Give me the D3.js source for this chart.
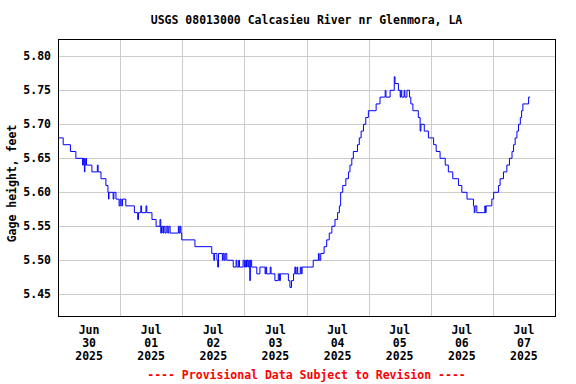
<!DOCTYPE html>
<html>
<head>
<meta charset="utf-8">
<script src="https://cdn.jsdelivr.net/npm/d3@7"></script>
<style>
  body { margin: 0; background: #fff; }
  svg text { font-family: "DejaVu Sans Mono", monospace; font-weight: bold; font-size: 11.5px; fill: #000; }
  .grid line { stroke: #cccccc; stroke-width: 1; shape-rendering: crispEdges; }
  .frame { fill: none; stroke: #000; stroke-width: 1; shape-rendering: crispEdges; }
  .series { fill: none; stroke: #0000ff; stroke-width: 1; }
  .note { fill: #ff0000; }
</style>
</head>
<body>
<svg width="576" height="384"></svg>
<script>
// hours after Jun 30 2025 00:00 at which the gage reading changes
const changeHours = [
  0, 2.0, 4.8, 6.9, 9.5, 9.8, 10.2, 10.4, 10.7, 11.0, 13.1, 15.2, 15.5, 16.6, 18.5,
  19.3, 19.5, 19.7, 21.3, 21.6, 22.4, 23.6, 24.0, 24.4, 24.9, 26.2, 29.5, 30.8, 31.1,
  32.0, 32.3, 34.0, 34.3, 36.3, 37.9, 39.4, 39.7, 40.0, 40.5, 40.8, 41.3, 41.8, 42.4,
  42.8, 43.3, 46.5, 46.8, 47.2, 47.5, 47.8, 52.9, 59.4, 60.2, 60.5, 61.4, 61.7, 62.0,
  63.5, 63.8, 64.2, 64.6, 65.2, 67.7, 68.8, 69.1, 69.8, 70.1, 71.5, 72.0, 72.5, 72.8,
  73.0, 73.4, 73.7, 74.1, 74.3, 74.8, 76.8, 78.0, 80.0, 80.3, 80.6, 82.0, 82.3, 83.8,
  85.1, 85.6, 85.9, 89.0, 89.6, 90.2, 91.0, 91.5, 91.8, 92.3, 92.6, 93.2, 93.6, 94.0,
  94.3, 98.6, 100.6, 100.9, 101.5, 102.8, 103.8, 104.8, 105.8, 107.0, 108.0, 108.7,
  109.2, 110.0, 111.2, 112.2, 112.8, 113.5, 114.1, 115.7, 116.4, 117.1, 118.0, 118.9,
  119.9, 122.9, 124.4, 126.4, 126.7, 128.3, 129.9, 130.2, 131.5, 132.2, 132.5, 132.8,
  133.7, 134.0, 134.8, 135.8, 136.3, 137.1, 139.2, 139.9, 140.2, 141.5, 143.1, 145.1,
  146.1, 147.6, 149.6, 150.8, 152.5, 154.7, 156.0, 158.0, 160.5, 160.8, 161.1, 161.8,
  164.9, 165.1, 165.4, 167.6, 168.3, 170.2, 170.8, 172.1, 173.4, 174.4, 175.4, 176.0,
  176.6, 177.3, 177.9, 178.6, 179.1, 179.6, 181.8, 182.4
];
// gage height, feet, from each change onward
const gageHeight = [
  5.68, 5.67, 5.66, 5.65, 5.64, 5.65, 5.63, 5.64, 5.65, 5.64, 5.63, 5.64, 5.63, 5.62, 5.61,
  5.60, 5.59, 5.60, 5.59, 5.60, 5.59, 5.58, 5.59, 5.58, 5.59, 5.58, 5.57, 5.56, 5.57,
  5.58, 5.57, 5.58, 5.57, 5.56, 5.55, 5.56, 5.54, 5.55, 5.54, 5.55, 5.54, 5.55, 5.54,
  5.55, 5.54, 5.55, 5.54, 5.55, 5.54, 5.53, 5.52, 5.51, 5.50, 5.51, 5.50, 5.49, 5.51,
  5.50, 5.51, 5.50, 5.51, 5.50, 5.49, 5.50, 5.49, 5.50, 5.49, 5.50, 5.49, 5.50, 5.49,
  5.50, 5.49, 5.50, 5.47, 5.50, 5.49, 5.48, 5.49, 5.48, 5.49, 5.48, 5.49, 5.48, 5.47,
  5.48, 5.47, 5.48, 5.47, 5.46, 5.47, 5.48, 5.49, 5.48, 5.49, 5.48, 5.48, 5.49, 5.48,
  5.49, 5.50, 5.51, 5.50, 5.51, 5.52, 5.53, 5.54, 5.55, 5.56, 5.57, 5.58,
  5.60, 5.61, 5.62, 5.63, 5.64, 5.65, 5.66, 5.67, 5.68, 5.69, 5.70, 5.71,
  5.72, 5.73, 5.74, 5.75, 5.74, 5.75, 5.77, 5.76, 5.75, 5.74, 5.75, 5.74,
  5.75, 5.74, 5.75, 5.74, 5.73, 5.72, 5.71, 5.69, 5.70, 5.69, 5.68, 5.67,
  5.66, 5.65, 5.64, 5.63, 5.62, 5.61, 5.60, 5.59, 5.58, 5.57, 5.58, 5.57,
  5.58, 5.57, 5.58, 5.59, 5.60, 5.61, 5.62, 5.63, 5.64, 5.65, 5.66, 5.67,
  5.68, 5.69, 5.70, 5.71, 5.72, 5.73, 5.74, 5.74
];
const yTicks = [5.45, 5.50, 5.55, 5.60, 5.65, 5.70, 5.75, 5.80];
const dayLabels = [
  ['Jun', '30', '2025'], ['Jul', '01', '2025'], ['Jul', '02', '2025'], ['Jul', '03', '2025'],
  ['Jul', '04', '2025'], ['Jul', '05', '2025'], ['Jul', '06', '2025'], ['Jul', '07', '2025']
];
const title = 'USGS 08013000 Calcasieu River nr Glenmora, LA';
const yTitle = 'Gage height, feet';
const footer = '---- Provisional Data Subject to Revision ----';

const start = new Date(2025, 5, 30);
const hourToDate = h => new Date(start.getTime() + h * 3600 * 1000);
const data = changeHours.map((h, i) => ({ t: hourToDate(h), v: gageHeight[i] }));

const margin = { left: 58, right: 555, top: 39, bottom: 316 };
const svg = d3.select('svg');

const x = d3.scaleTime()
  .domain([start, d3.timeDay.offset(start, 8)])
  .range([margin.left, margin.right]);
const y = d3.scaleLinear()
  .domain([5.418, 5.8255])
  .range([margin.bottom, margin.top]);

const crisp = v => Math.round(v) + 0.5;

// grid
const grid = svg.append('g').attr('class', 'grid');
grid.selectAll('line.h').data(yTicks).join('line')
  .attr('class', 'h')
  .attr('x1', margin.left).attr('x2', margin.right)
  .attr('y1', d => crisp(y(d))).attr('y2', d => crisp(y(d)));
const dayLines = d3.timeDay.range(d3.timeDay.offset(start, 1), d3.timeDay.offset(start, 8));
grid.selectAll('line.v').data(dayLines).join('line')
  .attr('class', 'v')
  .attr('y1', margin.top).attr('y2', margin.bottom)
  .attr('x1', d => crisp(x(d))).attr('x2', d => crisp(x(d)));

// series
const line = d3.line()
  .x(d => x(d.t))
  .y(d => y(d.v))
  .curve(d3.curveStepAfter);
svg.append('path')
  .datum(data)
  .attr('class', 'series')
  .attr('d', line);

// frame
svg.append('rect')
  .attr('class', 'frame')
  .attr('x', margin.left + 0.5).attr('y', margin.top + 0.5)
  .attr('width', margin.right - margin.left).attr('height', margin.bottom - margin.top);

// y tick labels
svg.append('g').selectAll('text').data(yTicks).join('text')
  .attr('x', 51)
  .attr('y', d => y(d))
  .attr('dy', '0.35em')
  .attr('text-anchor', 'end')
  .text(d => d.toFixed(2));

// x tick labels at noon of each day
const xl = svg.append('g').selectAll('g').data(dayLabels).join('g')
  .attr('transform', (d, i) => `translate(${x(d3.timeHour.offset(d3.timeDay.offset(start, i), 12))},0)`);
xl.selectAll('text').data(d => d).join('text')
  .attr('text-anchor', 'middle')
  .attr('y', (d, i) => 334 + i * 13)
  .text(d => d);

// titles
svg.append('text')
  .attr('x', (margin.left + margin.right) / 2)
  .attr('y', 24)
  .attr('text-anchor', 'middle')
  .text(title);
svg.append('text')
  .attr('transform', `translate(16,${(margin.top + margin.bottom) / 2 + 6}) rotate(-90)`)
  .attr('text-anchor', 'middle')
  .text(yTitle);
svg.append('text')
  .attr('class', 'note')
  .attr('x', (margin.left + margin.right) / 2)
  .attr('y', 379)
  .attr('text-anchor', 'middle')
  .text(footer);
</script>
</body>
</html>
